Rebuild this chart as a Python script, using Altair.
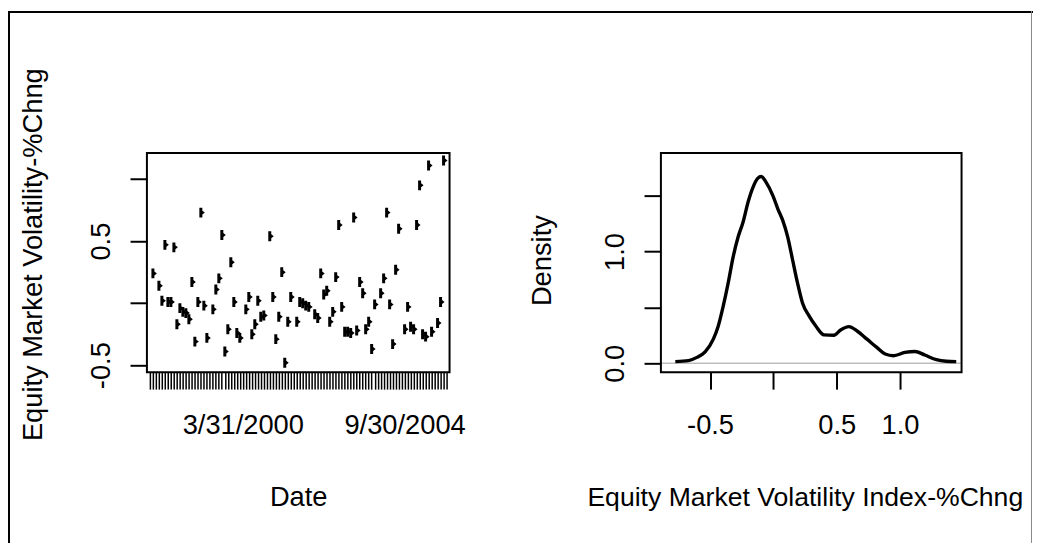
import calendar
import altair as alt
import pandas as pd

# ---------------- data ----------------
# category axis: month-end dates (100 levels)
dates = []
yy, mm = 1997, 8
for _ in range(100):
    dates.append(f"{mm}/{calendar.monthrange(yy, mm)[1]}/{yy}")
    mm += 1
    if mm > 12:
        mm, yy = 1, yy + 1

shown_dates = ["3/31/2000", "9/30/2004"]

vol_chg = [
    None, 0.24, None, 0.14, 0.02, 0.47, 0.01, 0.01, 0.45, -0.17,
    -0.04, -0.07, -0.08, -0.13, 0.17, -0.31, 0.01, 0.73, -0.02, -0.28,
    None, -0.05, 0.11, 0.20, 0.55, -0.39, -0.21, 0.33, 0.01, -0.24,
    -0.28, None, -0.05, 0.05, -0.25, -0.17, 0.02, -0.11, -0.10, None,
    0.54, 0.05, -0.29, -0.11, 0.25, -0.48, -0.15, 0.05, None, -0.15,
    0.01, 0.00, -0.02, -0.03, None, -0.09, -0.12, 0.24, 0.07, 0.10,
    -0.15, -0.07, 0.21, 0.63, -0.03, -0.23, -0.23, -0.24, 0.69, -0.22,
    0.17, 0.08, -0.21, -0.15, -0.37, -0.01, None, 0.08, 0.20, 0.73,
    -0.01, -0.33, 0.27, 0.60, None, -0.21, -0.03, -0.19, -0.21, 0.63,
    0.95, -0.25, -0.27, 1.11, -0.23, None, -0.16, 0.01, 1.15, None,
]

dens_x = [-0.774, -0.670, -0.604, -0.539, -0.474, -0.435, -0.396, -0.357, -0.317, -0.278,
          -0.239, -0.200, -0.161, -0.122, -0.096, -0.057, -0.004, 0.035, 0.074, 0.113,
          0.152, 0.191, 0.230, 0.283, 0.335, 0.400, 0.478, 0.531, 0.596, 0.661,
          0.739, 0.817, 0.883, 0.948, 1.039, 1.118, 1.196, 1.287, 1.365, 1.444]
dens_y = [0.015, 0.024, 0.053, 0.103, 0.216, 0.334, 0.511, 0.717, 0.954, 1.131,
          1.264, 1.441, 1.574, 1.656, 1.671, 1.618, 1.500, 1.382, 1.278, 1.131,
          0.924, 0.717, 0.540, 0.422, 0.334, 0.254, 0.251, 0.298, 0.328, 0.289,
          0.216, 0.142, 0.083, 0.068, 0.097, 0.106, 0.074, 0.032, 0.018, 0.015]

left_y_ticks = [-0.5, 0.0, 0.5, 1.0]
left_y_labels = ["-0.5", "", "0.5", ""]
right_x_ticks = [-0.5, 0.0, 0.5, 1.0]
right_x_labels = ["-0.5", "", "0.5", "1.0"]
right_y_ticks = [0.0, 0.5, 1.0, 1.5]
right_y_labels = ["0.0", "", "1.0", ""]

# ---------------- layout (pixels inside the chart) ----------------
W, H = 1033, 537
L_X0, L_X1 = 140, 445
R_X0, R_X1 = 658, 961
P_Y0, P_Y1 = 144, 365
FONT = "Liberation Sans"
FS = 27.5


def label_expr(ticks, labels):
    parts = " : ".join(f"datum.value == {t} ? '{l}'" for t, l in zip(ticks, labels))
    return parts + " : ''"


common_axis = dict(
    domain=False, grid=False, tickSize=17, tickWidth=2, tickColor="black",
    labelFont=FONT, labelFontSize=FS, labelColor="black",
    titleFont=FONT, titleFontSize=FS, titleFontWeight="normal", titleColor="black",
    labelOverlap=False, labelFlush=False,
)

pts = pd.DataFrame({"date": dates, "value": vol_chg}).dropna()
dens = pd.DataFrame({"x": dens_x, "density": dens_y})
one = pd.DataFrame({"k": [0]})

flag = "M-0.3,-1L0.3,-1L0.3,-0.4L0.8,0L0.3,0.4L0.3,1L-0.3,1Z"

left_x_axis = alt.Axis(
    orient="bottom", offset=P_Y1 - H, labelAngle=0, labelAlign="center",
    labelBaseline="alphabetic", labelPadding=45,
    labelExpr="indexof(" + str(shown_dates) + ", datum.value) >= 0 ? datum.value : ''",
    title="Date", titleY=134, titleBaseline="alphabetic",
    **{**common_axis, "tickWidth": 1.5},
)
left_y_axis = alt.Axis(
    orient="left", offset=-L_X0, values=left_y_ticks, labelAngle=270, labelAlign="center",
    labelBaseline="alphabetic", labelPadding=21,
    labelExpr=label_expr(left_y_ticks, left_y_labels),
    title="Equity Market Volatility-%Chng", titleX=-106, titleY=246, titleAngle=270,
    titleBaseline="alphabetic", titleAlign="center", **common_axis,
)

points = alt.Chart(pts).mark_point(
    shape=flag, size=100, filled=True, color="black", opacity=1, strokeWidth=0
).encode(
    x=alt.X("date:O", scale=alt.Scale(domain=dates, range=[L_X0, L_X1], padding=4.24),
            axis=left_x_axis),
    y=alt.Y("value:Q", scale=alt.Scale(domain=[-0.557, 1.211], range=[P_Y1, P_Y0],
                                       nice=False, zero=False), axis=left_y_axis),
)
left_box = alt.Chart(one).mark_rect(fillOpacity=0, stroke="black", strokeWidth=2).encode(
    x=alt.value(L_X0), x2=alt.value(L_X1), y=alt.value(P_Y0), y2=alt.value(P_Y1)
)
left = alt.layer(points, left_box)

right_x_axis = alt.Axis(
    orient="bottom", offset=P_Y1 - H, values=right_x_ticks, labelAngle=0, labelAlign="center",
    labelBaseline="alphabetic", labelPadding=45,
    labelExpr=label_expr(right_x_ticks, right_x_labels),
    title="Equity Market Volatility Index-%Chng", titleY=134, titleX=803,
    titleAlign="center", titleBaseline="alphabetic",
    **{**common_axis, "titleFontSize": 26.8},
)
right_y_axis = alt.Axis(
    orient="left", offset=-R_X0, values=right_y_ticks, labelAngle=270, labelAlign="center",
    labelBaseline="alphabetic", labelPadding=21,
    labelExpr=label_expr(right_y_ticks, right_y_labels),
    title="Density", titleX=-111, titleY=252, titleAngle=270,
    titleBaseline="alphabetic", titleAlign="center", **common_axis,
)

zero_line = alt.Chart(one).mark_rule(color="#bebebe", strokeWidth=1.5).encode(
    x=alt.value(R_X0), x2=alt.value(R_X1), y=alt.Y(datum=0)
)
dens_line = alt.Chart(dens).mark_line(color="black", strokeWidth=3.4, interpolate="monotone").encode(
    x=alt.X("x:Q", scale=alt.Scale(domain=[-0.888, 1.486], range=[R_X0, R_X1], nice=False, zero=False),
            axis=right_x_axis),
    y=alt.Y("density:Q", scale=alt.Scale(domain=[-0.08, 1.881], range=[P_Y1, P_Y0], nice=False, zero=False),
            axis=right_y_axis),
)
right_box = alt.Chart(one).mark_rect(fillOpacity=0, stroke="black", strokeWidth=2).encode(
    x=alt.value(R_X0), x2=alt.value(R_X1), y=alt.value(P_Y0), y2=alt.value(P_Y1)
)
right = alt.layer(zero_line, dens_line, right_box)

frame_top = alt.Chart(one).mark_rule(color="black", strokeWidth=2).encode(
    x=alt.value(0), x2=alt.value(W), y=alt.value(2)
)
frame_left = alt.Chart(one).mark_rule(color="black", strokeWidth=2).encode(
    x=alt.value(1), y=alt.value(1), y2=alt.value(H)
)
frame_right = alt.Chart(one).mark_rule(color="#888888", strokeWidth=1).encode(
    x=alt.value(W - 1.5), y=alt.value(1), y2=alt.value(H)
)

chart = alt.layer(left, right, frame_top, frame_left, frame_right).resolve_scale(
    x="independent", y="independent"
).properties(
    width=W, height=H, padding=0, autosize=alt.AutoSizeParams(type="none"),
    background="white",
).configure_view(strokeWidth=0)

chart.save("out.html", embed_options={"renderer": "svg", "actions": False})
